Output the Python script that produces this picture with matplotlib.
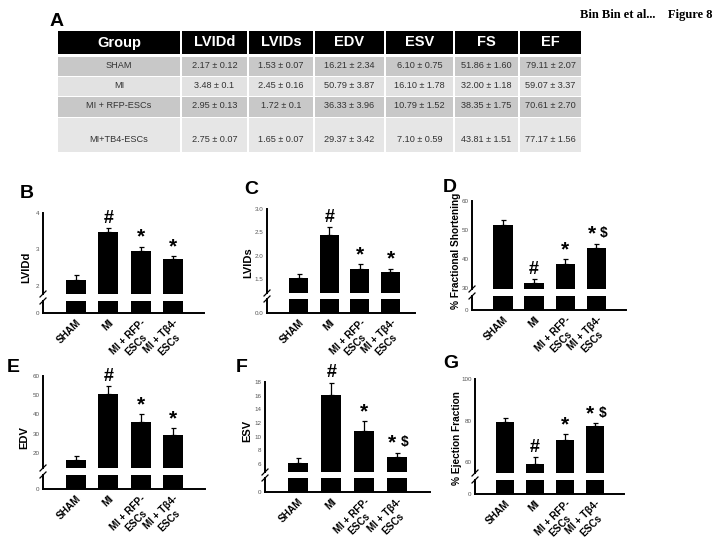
import matplotlib
matplotlib.use('Agg')
import matplotlib.pyplot as plt
from matplotlib.patches import Rectangle

plt.rcParams['font.family'] = ['Liberation Sans', 'DejaVu Sans']

# Dados (tabela A e barras B-G)
grupos = ['SHAM', 'MI', 'MI + RFP-ESCs', 'MI+TB4-ESCs']
rotulos_x = ['SHAM', 'MI', 'MI + RFP-\nESCs', 'MI + T\u03b24-\nESCs']
colunas = ['Group', 'LVIDd', 'LVIDs', 'EDV', 'ESV', 'FS', 'EF']

lvidd = [2.17, 3.48, 2.95, 2.75]
lvidd_err = [0.12, 0.1, 0.13, 0.07]
lvids = [1.53, 2.45, 1.72, 1.65]
lvids_err = [0.07, 0.16, 0.1, 0.07]
edv = [16.21, 50.79, 36.33, 29.37]
edv_err = [2.34, 3.87, 3.96, 3.42]
esv = [6.10, 16.10, 10.79, 7.10]
esv_err = [0.75, 1.78, 1.52, 0.59]
fs = [51.86, 32.00, 38.35, 43.81]
fs_err = [1.60, 1.18, 1.75, 1.51]
ef = [79.11, 59.07, 70.61, 77.17]
ef_err = [2.07, 3.37, 2.70, 1.56]

tabela = [
    ['2.17 \u00b1 0.12', '1.53 \u00b1 0.07', '16.21 \u00b1 2.34', '6.10 \u00b1 0.75', '51.86 \u00b1 1.60', '79.11 \u00b1 2.07'],
    ['3.48 \u00b1 0.1', '2.45 \u00b1 0.16', '50.79 \u00b1 3.87', '16.10 \u00b1 1.78', '32.00 \u00b1 1.18', '59.07 \u00b1 3.37'],
    ['2.95 \u00b1 0.13', '1.72 \u00b1 0.1', '36.33 \u00b1 3.96', '10.79 \u00b1 1.52', '38.35 \u00b1 1.75', '70.61 \u00b1 2.70'],
    ['2.75 \u00b1 0.07', '1.65 \u00b1 0.07', '29.37 \u00b1 3.42', '7.10 \u00b1 0.59', '43.81 \u00b1 1.51', '77.17 \u00b1 1.56'],
]

marcas_1 = ['', '#', '*', '*']
marcas_2 = ['', '#', '*', '*$']

W, H = 720, 552
fig = plt.figure(figsize=(7.2, 5.52), dpi=100)


def px_axes(left, top, right, bottom):
    return fig.add_axes([left / W, 1 - bottom / H,
                         (right - left) / W, (bottom - top) / H])


def painel(caixa, vals, errs, marcas, ylim, yticks, fmt, xlim, zero='0'):
    left, right, up_top, up_bot, lo_top, lo_bot = caixa
    ax_up = px_axes(left, up_top, right, up_bot)
    ax_lo = px_axes(left, lo_top, right, lo_bot)
    x = list(range(len(vals)))
    ax_up.bar(x, vals, width=0.62, color='black')
    ax_up.errorbar(x, vals, yerr=[[0] * len(errs), errs], fmt='none',
                   ecolor='black', elinewidth=0.9, capsize=1.8, capthick=0.9)
    ax_lo.bar(x, vals, width=0.62, color='black')
    for i, m in enumerate(marcas):
        if not m:
            continue
        topo = vals[i] + errs[i]
        if m == '#':
            ax_up.annotate('#', (i, topo), xytext=(0, 1), textcoords='offset points',
                           ha='center', va='bottom', fontsize=13, fontweight='bold',
                           annotation_clip=False)
        elif m == '*':
            ax_up.annotate('*', (i, topo), xytext=(0, 0), textcoords='offset points',
                           ha='center', va='bottom', fontsize=15, fontweight='bold',
                           annotation_clip=False)
        else:
            ax_up.annotate('*', (i, topo), xytext=(-3.5, 0), textcoords='offset points',
                           ha='center', va='bottom', fontsize=15, fontweight='bold',
                           annotation_clip=False)
            ax_up.annotate(r'\$', (i, topo), xytext=(2.5, 2.5), textcoords='offset points',
                           ha='left', va='bottom', fontsize=10, fontweight='bold',
                           annotation_clip=False)
    ax_up.set_ylim(*ylim)
    ax_lo.set_ylim(0, ylim[0] * 0.5)
    for a in (ax_up, ax_lo):
        a.set_xlim(*xlim)
        a.spines['top'].set_visible(False)
        a.spines['right'].set_visible(False)
        a.spines['left'].set_linewidth(1.4)
        a.tick_params(axis='y', length=0, pad=2.5, labelsize=4.5,
                      labelcolor='#555555')
    ax_up.spines['bottom'].set_visible(False)
    ax_lo.spines['bottom'].set_linewidth(1.4)
    ax_up.set_xticks([])
    ax_up.set_yticks(yticks)
    ax_up.set_yticklabels([fmt % t for t in yticks])
    ax_lo.set_yticks([0])
    ax_lo.set_yticklabels([zero])
    ax_lo.set_xticks(x)
    ax_lo.set_xticklabels(rotulos_x, rotation=45, ha='right', va='top',
                          rotation_mode='anchor', fontsize=7.2,
                          fontweight='bold', multialignment='center')
    ax_lo.tick_params(axis='x', length=0, pad=3)
    return ax_up, ax_lo


caixas = {
    'B': (43, 204, 213, 294, 301, 313),
    'C': (267, 415, 209, 293, 299, 313),
    'D': (472, 626, 201, 289, 296, 310),
    'E': (43, 205, 376, 468, 475, 489),
    'F': (265, 430, 382, 472, 478, 492),
    'G': (475, 624, 379, 473, 480, 494),
}

painel(caixas['B'], lvidd, lvidd_err, marcas_1, (1.78, 4), [2, 3, 4], '%d', (-1.02, 3.96))
painel(caixas['C'], lvids, lvids_err, marcas_1, (1.2, 3.0), [1.5, 2.0, 2.5, 3.0], '%.1f',
       (-1.03, 3.8), zero='0.0')
painel(caixas['D'], fs, fs_err, marcas_2, (29.8, 60), [30, 40, 50, 60], '%d', (-0.99, 3.95))
painel(caixas['E'], edv, edv_err, marcas_1, (12.2, 60), [20, 30, 40, 50, 60], '%d', (-1.02, 3.99))
painel(caixas['F'], esv, esv_err, marcas_2, (4.85, 18), list(range(6, 19, 2)), '%d', (-1.01, 4.0))
painel(caixas['G'], ef, ef_err, marcas_2, (54.7, 100), [60, 80, 100], '%d', (-1.0, 3.97))

# camada de texto / tabela em coordenadas de pixel
axt = fig.add_axes([0, 0, 1, 1])
axt.set_xlim(0, W)
axt.set_ylim(H, 0)
axt.axis('off')

# marcas de quebra do eixo
for k, (left, right, up_top, up_bot, lo_top, lo_bot) in caixas.items():
    for yb in (up_bot, lo_top):
        axt.plot([left - 3, left + 3], [yb + 3, yb - 3], color='black', lw=0.9)

# letras dos paineis
letras = {'A': (50, 22), 'B': (20, 193), 'C': (244, 189), 'D': (443, 187),
          'E': (7, 368), 'F': (236, 368), 'G': (443, 363)}
for l, (lx, ly) in letras.items():
    axt.text(lx, ly, l, fontsize=14, fontweight='bold', ha='left', va='center')

# rotulos y
rotulos_y = {'LVIDd': (26, 267), 'LVIDs': (248, 263), '% Fractional Shortening': (456, 251),
             'EDV': (24, 438), 'ESV': (247, 431), '% Ejection Fraction': (457, 438)}
for t, (lx, ly) in rotulos_y.items():
    fsz = 7.3 if t.startswith('%') else 8
    axt.text(lx, ly, t, rotation=90, fontsize=fsz, fontweight='bold',
             ha='center', va='center')

axt.text(712, 15, 'Bin Bin et al...    Figure 8', fontsize=9, fontweight='bold',
         family=['Liberation Serif', 'DejaVu Serif'], ha='right', va='center')

# tabela A
bordas = [57, 181, 248, 314, 385, 454, 519, 582]
linhas_y = [(31, 54), (57, 75.5), (76.5, 95.5), (96.5, 117), (118, 152)]
cores = ['black', '#c8c8c8', '#e2e2e2', '#c8c8c8', '#e6e6e6']
texto_y = [42.5, 66, 85.5, 105, 139]
for r, (y0, y1) in enumerate(linhas_y):
    for c in range(len(colunas)):
        x0, x1 = bordas[c], bordas[c + 1]
        axt.add_patch(Rectangle((x0 + 0.8, y0), x1 - x0 - 1.6, y1 - y0,
                                facecolor=cores[r], edgecolor='none'))
        xc = (x0 + x1) / 2
        if r == 0:
            axt.text(xc, texto_y[r], colunas[c], color='white', fontsize=10.5,
                     fontweight='bold', ha='center', va='center')
        else:
            t = grupos[r - 1] if c == 0 else tabela[r - 1][c - 1]
            axt.text(xc, texto_y[r], t, color='#333333', fontsize=6.6,
                     ha='center', va='center', fontstretch='condensed')

fig.savefig('out.png', dpi=100)
